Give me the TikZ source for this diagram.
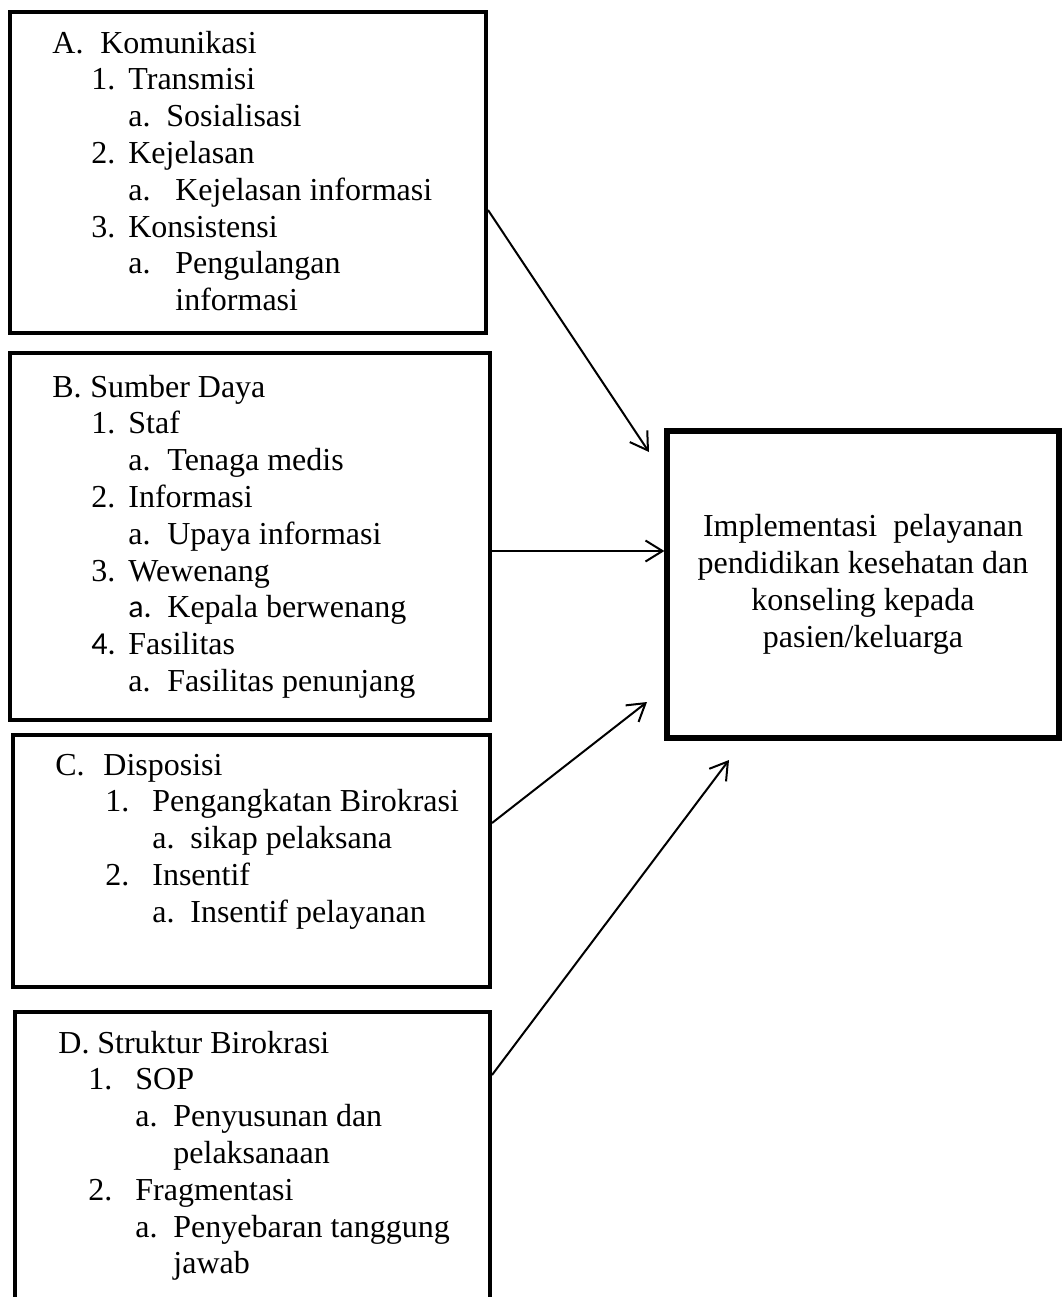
\documentclass[tikz,border=0pt]{standalone}
\usepackage{fontspec}
\setmainfont{Liberation Serif}
\newfontfamily\carlito{Carlito}
\usetikzlibrary{calc}
\usetikzlibrary{arrows.meta}
\tikzset{
  every picture/.style={
    >={Straight Barb[length=8.5pt, width=10.5pt]}
  },
  box/.style={
    draw, line width=2pt, inner sep=0pt
  },
  items/.style={
    inner sep=0pt, anchor=base west,
    font=\fontsize{16}{18.4}\selectfont
  },
  link/.style={
    ->, line width=1pt
  }
}
% one line of a list: label at #1, text at #2 (pt from the left)
\newcommand{\itemline}[4]{\hspace*{#1pt}\makebox[\dimexpr#2pt-#1pt\relax][l]{#3}#4}

\begin{document}
\begin{tikzpicture}[x=0.5pt, y=-0.5pt]
  \clip (0,0) rectangle (1062,1297);
  % boxes
  \node[box, minimum width=238pt, minimum height=160.5pt] (komunikasi) at (248,172.5) {};
  \node[box, minimum width=240pt, minimum height=183.5pt] (sumberdaya) at (250,536.5) {};
  \node[box, minimum width=238.5pt, minimum height=126pt] (disposisi) at (251.5,861) {};
  \node[box, minimum width=237.5pt, minimum height=170pt] (struktur) at (252.5,1182) {};
  \node[box, line width=2.6pt, minimum width=196pt, minimum height=153.5pt, align=center,
    font=\fontsize{16}{18.4}\selectfont] (implementasi) at (863,584.5)
    {Implementasi\ \ pelayanan\\ pendidikan kesehatan dan\\ konseling kepada\\ pasien/keluarga};

  % lists
  \node[items] (komunikasi-txt) at (0,53) {\parbox[t]{260pt}{%
    \itemline{26}{50}{A.}{Komunikasi}\\
    \itemline{45.5}{64}{1.}{Transmisi}\\
    \itemline{64}{83}{a.}{Sosialisasi}\\
    \itemline{45.5}{64}{2.}{Kejelasan}\\
    \itemline{64}{87.5}{a.}{Kejelasan informasi}\\
    \itemline{45.5}{64}{3.}{Konsistensi}\\
    \itemline{64}{87.5}{a.}{Pengulangan}\\
    \itemline{87.5}{87.5}{}{informasi}}};
  \node[items] (sumberdaya-txt) at (0,397) {\parbox[t]{260pt}{%
    \itemline{26}{45}{B.}{Sumber Daya}\\
    \itemline{45.5}{64}{1.}{Staf}\\
    \itemline{64}{83.5}{a.}{Tenaga medis}\\
    \itemline{45.5}{64}{2.}{Informasi}\\
    \itemline{64}{83.5}{a.}{Upaya informasi}\\
    \itemline{45.5}{64}{3.}{Wewenang}\\
    \itemline{64}{83.5}{\carlito a.}{Kepala berwenang}\\
    \itemline{45.5}{64}{\carlito 4.}{Fasilitas}\\
    \itemline{64}{83.5}{a.}{Fasilitas penunjang}}};
  \node[items] (disposisi-txt) at (0,775) {\parbox[t]{260pt}{%
    \itemline{27.5}{51.5}{C.}{Disposisi}\\
    \itemline{52.5}{76}{1.}{Pengangkatan Birokrasi}\\
    \itemline{76}{95}{a.}{sikap pelaksana}\\
    \itemline{52.5}{76}{2.}{Insentif}\\
    \itemline{76}{95}{a.}{Insentif pelayanan}}};
  \node[items] (struktur-txt) at (0,1053) {\parbox[t]{260pt}{%
    \itemline{29}{48.5}{D.}{Struktur Birokrasi}\\
    \itemline{44}{67.5}{1.}{SOP}\\
    \itemline{67.5}{86.5}{a.}{Penyusunan dan}\\
    \itemline{86.5}{86.5}{}{pelaksanaan}\\
    \itemline{44}{67.5}{2.}{Fragmentasi}\\
    \itemline{67.5}{86.5}{a.}{Penyebaran tanggung}\\
    \itemline{86.5}{86.5}{}{jawab}}};

  % arrows
  \coordinate (tip-komunikasi) at (649,452);
  \coordinate (tip-disposisi) at (647,702);
  \coordinate (tip-struktur) at (729,760);
  \draw[link] ($(komunikasi.north east)+(0,200)$) -- (tip-komunikasi);
  \draw[link] ($(sumberdaya.north east)+(0,200)$) coordinate (from-sumberdaya)
    -- (from-sumberdaya -| implementasi.west);
  \draw[link] ($(disposisi.north east)+(0,90)$) -- (tip-disposisi);
  \draw[link] ($(struktur.north east)+(0,65)$) -- (tip-struktur);
\end{tikzpicture}
\end{document}
